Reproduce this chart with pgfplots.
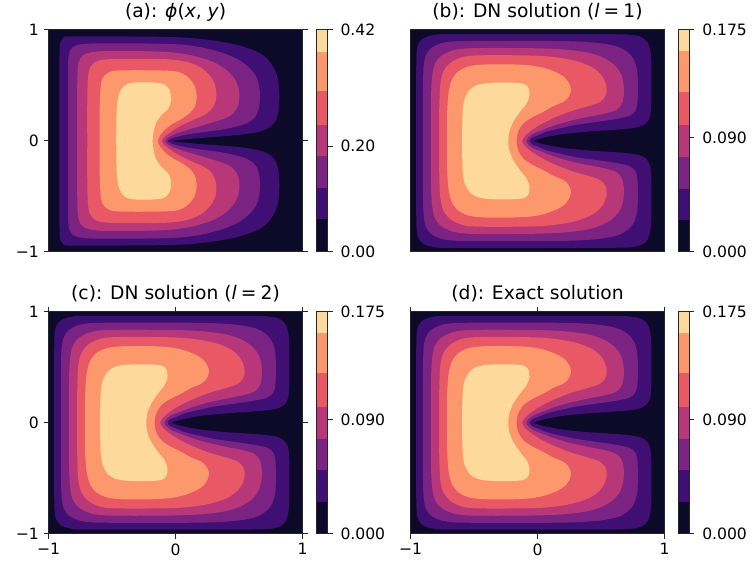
\documentclass[border=0pt]{standalone}
\usepackage{pgfplots}
\pgfplotsset{compat=1.18}
\usepackage{pgfplotstable}
\usepackage{fontspec}
\setmainfont{DejaVu Sans}
\definecolor{c0}{HTML}{0C0A28}
\definecolor{c1}{HTML}{400F73}
\definecolor{c2}{HTML}{7B2382}
\definecolor{c3}{HTML}{B73779}
\definecolor{c4}{HTML}{E85865}
\definecolor{c5}{HTML}{FC986B}
\definecolor{c6}{HTML}{FDDA9C}
\newcommand{\ticksize}{\fontsize{11.7}{14}\selectfont}
\newcommand{\titlesize}{\fontsize{14}{17}\selectfont}
\tikzset{frameline/.style={line width=0.75pt, black!85}}

% ---------- panel (a) contours ----------
\pgfplotstableread{
x y
-0.04 0
0.05 0.012
0.2 0.028
0.35 0.04
0.5 0.055
0.62 0.075
0.7 0.1
0.76 0.14
0.795 0.2
0.812 0.28
0.817 0.4
0.812 0.52
0.79 0.62
0.745 0.71
0.68 0.78
0.586 0.83
0.45 0.875
0.3 0.905
0.1 0.93
-0.2 0.94
-0.82 0.942
-0.88 0.93
-0.905 0.895
-0.913 0.82
-0.915 0.4
-0.915 0
-0.915 -0.4
-0.913 -0.82
-0.905 -0.895
-0.88 -0.93
-0.82 -0.942
-0.2 -0.94
0.1 -0.93
0.3 -0.905
0.45 -0.875
0.586 -0.83
0.68 -0.78
0.745 -0.71
0.79 -0.62
0.812 -0.52
0.817 -0.4
0.812 -0.28
0.795 -0.2
0.76 -0.14
0.7 -0.1
0.62 -0.075
0.5 -0.055
0.35 -0.04
0.2 -0.028
0.05 -0.012
-0.04 0
}\tAone
\pgfplotstableread{
x y
-0.848 0
-0.848 -0.4
-0.846 -0.7
-0.838 -0.79
-0.81 -0.845
-0.74 -0.872
-0.6 -0.88
-0.2 -0.878
0.05 -0.868
0.22 -0.84
0.38 -0.79
0.5 -0.73
0.58 -0.66
0.635 -0.58
0.66 -0.48
0.665 -0.38
0.655 -0.29
0.63 -0.22
0.57 -0.165
0.48 -0.13
0.35 -0.1
0.22 -0.08
0.1 -0.06
0.0 -0.035
-0.04 -0.02
-0.062 0
-0.04 0.02
0.0 0.035
0.1 0.06
0.22 0.08
0.35 0.1
0.48 0.13
0.57 0.165
0.63 0.22
0.655 0.29
0.665 0.38
0.66 0.48
0.635 0.58
0.58 0.66
0.5 0.73
0.38 0.79
0.22 0.84
0.05 0.868
-0.2 0.878
-0.6 0.88
-0.74 0.872
-0.81 0.845
-0.838 0.79
-0.846 0.7
-0.848 0.4
-0.848 0
}\tAtwo
\pgfplotstableread{
x y
-0.775 0
-0.775 -0.35
-0.772 -0.6
-0.762 -0.71
-0.73 -0.77
-0.66 -0.8
-0.55 -0.81
-0.2 -0.808
0.0 -0.795
0.15 -0.765
0.3 -0.71
0.4 -0.64
0.465 -0.56
0.498 -0.47
0.503 -0.39
0.49 -0.31
0.45 -0.245
0.38 -0.2
0.27 -0.16
0.15 -0.12
0.05 -0.085
-0.02 -0.055
-0.06 -0.03
-0.083 0
-0.06 0.03
-0.02 0.055
0.05 0.085
0.15 0.12
0.27 0.16
0.38 0.2
0.45 0.245
0.49 0.31
0.503 0.39
0.498 0.47
0.465 0.56
0.4 0.64
0.3 0.71
0.15 0.765
0.0 0.795
-0.2 0.808
-0.55 0.81
-0.66 0.8
-0.73 0.77
-0.762 0.71
-0.772 0.6
-0.775 0.35
-0.775 0
}\tAthree
\pgfplotstableread{
x y
-0.695 0
-0.695 -0.35
-0.69 -0.56
-0.675 -0.655
-0.635 -0.71
-0.55 -0.735
-0.3 -0.74
-0.05 -0.735
0.1 -0.71
0.2 -0.66
0.27 -0.59
0.31 -0.51
0.322 -0.42
0.31 -0.34
0.275 -0.275
0.21 -0.225
0.12 -0.18
0.03 -0.13
-0.04 -0.08
-0.085 -0.04
-0.108 0
-0.085 0.04
-0.04 0.08
0.03 0.13
0.12 0.18
0.21 0.225
0.275 0.275
0.31 0.34
0.322 0.42
0.31 0.51
0.27 0.59
0.2 0.66
0.1 0.71
-0.05 0.735
-0.3 0.74
-0.55 0.735
-0.635 0.71
-0.675 0.655
-0.69 0.56
-0.695 0.35
-0.695 0
}\tAfour
\pgfplotstableread{
x y
-0.598 0
-0.597 -0.3
-0.59 -0.48
-0.575 -0.565
-0.53 -0.615
-0.45 -0.635
-0.2 -0.637
-0.02 -0.63
0.06 -0.605
0.12 -0.55
0.155 -0.48
0.166 -0.4
0.155 -0.32
0.12 -0.26
0.05 -0.2
-0.03 -0.15
-0.085 -0.1
-0.122 -0.05
-0.138 0
-0.122 0.05
-0.085 0.1
-0.03 0.15
0.05 0.2
0.12 0.26
0.155 0.32
0.166 0.4
0.155 0.48
0.12 0.55
0.06 0.605
-0.02 0.63
-0.2 0.637
-0.45 0.635
-0.53 0.615
-0.575 0.565
-0.59 0.48
-0.597 0.3
-0.598 0
}\tAfive
\pgfplotstableread{
x y
-0.467 0
-0.466 -0.15
-0.462 -0.3
-0.45 -0.4
-0.425 -0.47
-0.38 -0.515
-0.3 -0.528
-0.15 -0.525
-0.08 -0.505
-0.045 -0.455
-0.035 -0.39
-0.042 -0.33
-0.065 -0.28
-0.11 -0.235
-0.15 -0.17
-0.172 -0.09
-0.18 0
-0.172 0.09
-0.15 0.17
-0.11 0.235
-0.065 0.28
-0.042 0.33
-0.035 0.39
-0.045 0.455
-0.08 0.505
-0.15 0.525
-0.3 0.528
-0.38 0.515
-0.425 0.47
-0.45 0.4
-0.462 0.3
-0.466 0.15
-0.467 0
}\tAsix

% ---------- panels (b)-(d) contours ----------
\pgfplotstableread{
x y
-0.035 0
0.05 0.03
0.2 0.062
0.4 0.085
0.6 0.1
0.72 0.112
0.8 0.128
0.855 0.16
0.885 0.22
0.895 0.32
0.897 0.5
0.896 0.7
0.888 0.81
0.865 0.89
0.82 0.935
0.75 0.955
0.6 0.962
0.0 0.963
-0.7 0.963
-0.82 0.955
-0.9 0.925
-0.94 0.87
-0.953 0.78
-0.956 0.5
-0.956 0
-0.956 -0.5
-0.953 -0.78
-0.94 -0.87
-0.9 -0.925
-0.82 -0.955
-0.7 -0.963
0.0 -0.963
0.6 -0.962
0.75 -0.955
0.82 -0.935
0.865 -0.89
0.888 -0.81
0.896 -0.7
0.897 -0.5
0.895 -0.32
0.885 -0.22
0.855 -0.16
0.8 -0.128
0.72 -0.112
0.6 -0.1
0.4 -0.085
0.2 -0.062
0.05 -0.03
-0.035 0
}\tDone
\pgfplotstableread{
x y
-0.903 0
-0.903 -0.25
-0.902 -0.5
-0.897 -0.67
-0.88 -0.77
-0.84 -0.835
-0.76 -0.88
-0.65 -0.898
-0.4 -0.902
0.0 -0.902
0.3 -0.897
0.5 -0.88
0.63 -0.85
0.71 -0.8
0.76 -0.73
0.785 -0.63
0.79 -0.5
0.787 -0.35
0.77 -0.27
0.72 -0.225
0.6 -0.195
0.45 -0.17
0.3 -0.145
0.18 -0.115
0.072 -0.085
0.0 -0.05
-0.045 -0.03
-0.063 0
-0.045 0.03
0.0 0.05
0.072 0.085
0.18 0.115
0.3 0.145
0.45 0.17
0.6 0.195
0.72 0.225
0.77 0.27
0.787 0.35
0.79 0.5
0.785 0.63
0.76 0.73
0.71 0.8
0.63 0.85
0.5 0.88
0.3 0.897
0.0 0.902
-0.4 0.902
-0.65 0.898
-0.76 0.88
-0.84 0.835
-0.88 0.77
-0.897 0.67
-0.902 0.5
-0.903 0.25
-0.903 0
}\tDtwo
\pgfplotstableread{
x y
-0.84 0
-0.84 -0.2
-0.838 -0.42
-0.83 -0.58
-0.81 -0.69
-0.76 -0.765
-0.67 -0.815
-0.55 -0.835
-0.3 -0.838
0.0 -0.835
0.2 -0.825
0.38 -0.8
0.5 -0.76
0.59 -0.7
0.65 -0.62
0.675 -0.53
0.68 -0.43
0.665 -0.34
0.62 -0.28
0.52 -0.245
0.387 -0.215
0.25 -0.18
0.125 -0.138
0.04 -0.1
-0.03 -0.07
-0.072 -0.035
-0.088 0
-0.072 0.035
-0.03 0.07
0.04 0.1
0.125 0.138
0.25 0.18
0.387 0.215
0.52 0.245
0.62 0.28
0.665 0.34
0.68 0.43
0.675 0.53
0.65 0.62
0.59 0.7
0.5 0.76
0.38 0.8
0.2 0.825
0.0 0.835
-0.3 0.838
-0.55 0.835
-0.67 0.815
-0.76 0.765
-0.81 0.69
-0.83 0.58
-0.838 0.42
-0.84 0.2
-0.84 0
}\tDthree
\pgfplotstableread{
x y
-0.775 0
-0.775 -0.2
-0.772 -0.38
-0.765 -0.52
-0.74 -0.63
-0.68 -0.71
-0.58 -0.76
-0.45 -0.772
-0.15 -0.772
0.05 -0.765
0.2 -0.745
0.32 -0.715
0.42 -0.67
0.49 -0.61
0.53 -0.54
0.545 -0.47
0.535 -0.405
0.49 -0.35
0.387 -0.31
0.256 -0.266
0.125 -0.206
0.02 -0.146
-0.06 -0.086
-0.1 -0.045
-0.122 0
-0.1 0.045
-0.06 0.086
0.02 0.146
0.125 0.206
0.256 0.266
0.387 0.31
0.49 0.35
0.535 0.405
0.545 0.47
0.53 0.54
0.49 0.61
0.42 0.67
0.32 0.715
0.2 0.745
0.05 0.765
-0.15 0.772
-0.45 0.772
-0.58 0.76
-0.68 0.71
-0.74 0.63
-0.765 0.52
-0.772 0.38
-0.775 0.2
-0.775 0
}\tDfour
\pgfplotstableread{
x y
-0.712 0
-0.712 -0.15
-0.71 -0.3
-0.7 -0.44
-0.675 -0.55
-0.62 -0.63
-0.53 -0.675
-0.4 -0.69
-0.2 -0.69
-0.05 -0.68
0.06 -0.655
0.153 -0.615
0.215 -0.57
0.255 -0.505
0.262 -0.445
0.24 -0.39
0.2 -0.35
0.126 -0.315
0.04 -0.26
-0.04 -0.215
-0.11 -0.16
-0.152 -0.085
-0.165 0
-0.152 0.085
-0.11 0.16
-0.04 0.215
0.04 0.26
0.126 0.315
0.2 0.35
0.24 0.39
0.262 0.445
0.255 0.505
0.215 0.57
0.153 0.615
0.06 0.655
-0.05 0.68
-0.2 0.69
-0.4 0.69
-0.53 0.675
-0.62 0.63
-0.675 0.55
-0.7 0.44
-0.71 0.3
-0.712 0.15
-0.712 0
}\tDfive
\pgfplotstableread{
x y
-0.595 0
-0.593 -0.15
-0.588 -0.29
-0.572 -0.385
-0.53 -0.465
-0.46 -0.51
-0.35 -0.525
-0.2 -0.525
-0.11 -0.515
-0.072 -0.48
-0.063 -0.415
-0.085 -0.34
-0.137 -0.265
-0.19 -0.175
-0.222 -0.085
-0.23 0
-0.222 0.085
-0.19 0.175
-0.137 0.265
-0.085 0.34
-0.063 0.415
-0.072 0.48
-0.11 0.515
-0.2 0.525
-0.35 0.525
-0.46 0.51
-0.53 0.465
-0.572 0.385
-0.588 0.29
-0.593 0.15
-0.595 0
}\tDsix

\pgfplotsset{
  mapax/.style={
    scale only axis, width=190.5pt, height=166.5pt, anchor=north west,
    xmin=-1, xmax=1, ymin=-1, ymax=1,
    axis background/.style={fill=c0},
    axis on top, axis line style={frameline},
    tick align=outside, major tick length=3.75pt,
    tick style={frameline},
    xtick={-1,0,1}, ytick={-1,0,1},
    xticklabels={−1,0,1}, yticklabels={−1,0,1},
    tick label style={font=\ticksize},
    title style={font=\titlesize, at={(0.5,1)}, anchor=base, yshift=3.4pt},
    no markers,
  },
  cbax/.style={
    scale only axis, width=8.5pt, height=166.5pt, anchor=north west,
    xmin=0, xmax=1, xtick=\empty,
    ytick pos=right, yticklabel pos=right,
    axis on top, axis line style={frameline},
    tick align=outside, major tick length=3.75pt, tick style={frameline},
    tick label style={font=\ticksize},
    yticklabel style={xshift=2.4pt},
    no markers,
  },
  lev/.style={draw=none, smooth, tension=0.5},
}

\begin{document}
\begin{tikzpicture}
\useasboundingbox (0,0) rectangle (564.75pt,-427.5pt);

% (a)
\begin{axis}[mapax, at={(36.4pt,-22.5pt)}, xtick=\empty,
  title={(a): {\itshape ϕ}({\itshape x}, {\itshape y})}]
  \addplot[lev, fill=c1] table {\tAone};
  \addplot[lev, fill=c2] table {\tAtwo};
  \addplot[lev, fill=c3] table {\tAthree};
  \addplot[lev, fill=c4] table {\tAfour};
  \addplot[lev, fill=c5] table {\tAfive};
  \addplot[lev, fill=c6] table {\tAsix};
\end{axis}
\begin{axis}[cbax, at={(237.2pt,-22.5pt)}, ymin=0, ymax=0.42,
  ytick={0,0.2,0.42}, yticklabels={0.00,0.20,0.42}]
  \addplot[fill=c0, draw=none] coordinates {(0,0) (1,0) (1,0.0627) (0,0.0627)};
  \addplot[fill=c1, draw=none] coordinates {(0,0.0627) (1,0.0627) (1,0.122) (0,0.122)};
  \addplot[fill=c2, draw=none] coordinates {(0,0.122) (1,0.122) (1,0.182) (0,0.182)};
  \addplot[fill=c3, draw=none] coordinates {(0,0.182) (1,0.182) (1,0.241) (0,0.241)};
  \addplot[fill=c4, draw=none] coordinates {(0,0.241) (1,0.241) (1,0.304) (0,0.304)};
  \addplot[fill=c5, draw=none] coordinates {(0,0.304) (1,0.304) (1,0.379) (0,0.379)};
  \addplot[fill=c6, draw=none] coordinates {(0,0.379) (1,0.379) (1,0.42) (0,0.42)};
\end{axis}

% (b)
\begin{axis}[mapax, at={(307.9pt,-22.5pt)}, xtick=\empty, ytick=\empty,
  title={(b): DN solution ({\itshape l}\hspace{0.22em}=\hspace{0.22em}1)}]
  \addplot[lev, fill=c1] table {\tDone};
  \addplot[lev, fill=c2] table {\tDtwo};
  \addplot[lev, fill=c3] table {\tDthree};
  \addplot[lev, fill=c4] table {\tDfour};
  \addplot[lev, fill=c5] table {\tDfive};
  \addplot[lev, fill=c6] table {\tDsix};
\end{axis}
\begin{axis}[cbax, at={(508.5pt,-22.5pt)}, ymin=0, ymax=0.175,
  ytick={0,0.09,0.175}, yticklabels={0.000,0.090,0.175}]
  \addplot[fill=c0, draw=none] coordinates {(0,0) (1,0) (1,0.025) (0,0.025)};
  \addplot[fill=c1, draw=none] coordinates {(0,0.025) (1,0.025) (1,0.05) (0,0.05)};
  \addplot[fill=c2, draw=none] coordinates {(0,0.05) (1,0.05) (1,0.075) (0,0.075)};
  \addplot[fill=c3, draw=none] coordinates {(0,0.075) (1,0.075) (1,0.1) (0,0.1)};
  \addplot[fill=c4, draw=none] coordinates {(0,0.1) (1,0.1) (1,0.1264) (0,0.1264)};
  \addplot[fill=c5, draw=none] coordinates {(0,0.1264) (1,0.1264) (1,0.1584) (0,0.1584)};
  \addplot[fill=c6, draw=none] coordinates {(0,0.1584) (1,0.1584) (1,0.175) (0,0.175)};
\end{axis}

% (c)
\begin{axis}[mapax, at={(36.4pt,-233.8pt)},
  title={(c): DN solution ({\itshape l}\hspace{0.22em}=\hspace{0.22em}2)}]
  \addplot[lev, fill=c1] table {\tDone};
  \addplot[lev, fill=c2] table {\tDtwo};
  \addplot[lev, fill=c3] table {\tDthree};
  \addplot[lev, fill=c4] table {\tDfour};
  \addplot[lev, fill=c5] table {\tDfive};
  \addplot[lev, fill=c6] table {\tDsix};
\end{axis}
\begin{axis}[cbax, at={(237.2pt,-233.8pt)}, ymin=0, ymax=0.175,
  ytick={0,0.09,0.175}, yticklabels={0.000,0.090,0.175}]
  \addplot[fill=c0, draw=none] coordinates {(0,0) (1,0) (1,0.025) (0,0.025)};
  \addplot[fill=c1, draw=none] coordinates {(0,0.025) (1,0.025) (1,0.05) (0,0.05)};
  \addplot[fill=c2, draw=none] coordinates {(0,0.05) (1,0.05) (1,0.075) (0,0.075)};
  \addplot[fill=c3, draw=none] coordinates {(0,0.075) (1,0.075) (1,0.1) (0,0.1)};
  \addplot[fill=c4, draw=none] coordinates {(0,0.1) (1,0.1) (1,0.1264) (0,0.1264)};
  \addplot[fill=c5, draw=none] coordinates {(0,0.1264) (1,0.1264) (1,0.1584) (0,0.1584)};
  \addplot[fill=c6, draw=none] coordinates {(0,0.1584) (1,0.1584) (1,0.175) (0,0.175)};
\end{axis}

% (d)
\begin{axis}[mapax, at={(307.9pt,-233.8pt)}, ytick=\empty,
  title={(d): Exact solution}]
  \addplot[lev, fill=c1] table {\tDone};
  \addplot[lev, fill=c2] table {\tDtwo};
  \addplot[lev, fill=c3] table {\tDthree};
  \addplot[lev, fill=c4] table {\tDfour};
  \addplot[lev, fill=c5] table {\tDfive};
  \addplot[lev, fill=c6] table {\tDsix};
\end{axis}
\begin{axis}[cbax, at={(508.5pt,-233.8pt)}, ymin=0, ymax=0.175,
  ytick={0,0.09,0.175}, yticklabels={0.000,0.090,0.175}]
  \addplot[fill=c0, draw=none] coordinates {(0,0) (1,0) (1,0.025) (0,0.025)};
  \addplot[fill=c1, draw=none] coordinates {(0,0.025) (1,0.025) (1,0.05) (0,0.05)};
  \addplot[fill=c2, draw=none] coordinates {(0,0.05) (1,0.05) (1,0.075) (0,0.075)};
  \addplot[fill=c3, draw=none] coordinates {(0,0.075) (1,0.075) (1,0.1) (0,0.1)};
  \addplot[fill=c4, draw=none] coordinates {(0,0.1) (1,0.1) (1,0.1264) (0,0.1264)};
  \addplot[fill=c5, draw=none] coordinates {(0,0.1264) (1,0.1264) (1,0.1584) (0,0.1584)};
  \addplot[fill=c6, draw=none] coordinates {(0,0.1584) (1,0.1584) (1,0.175) (0,0.175)};
\end{axis}
\end{tikzpicture}
\end{document}
